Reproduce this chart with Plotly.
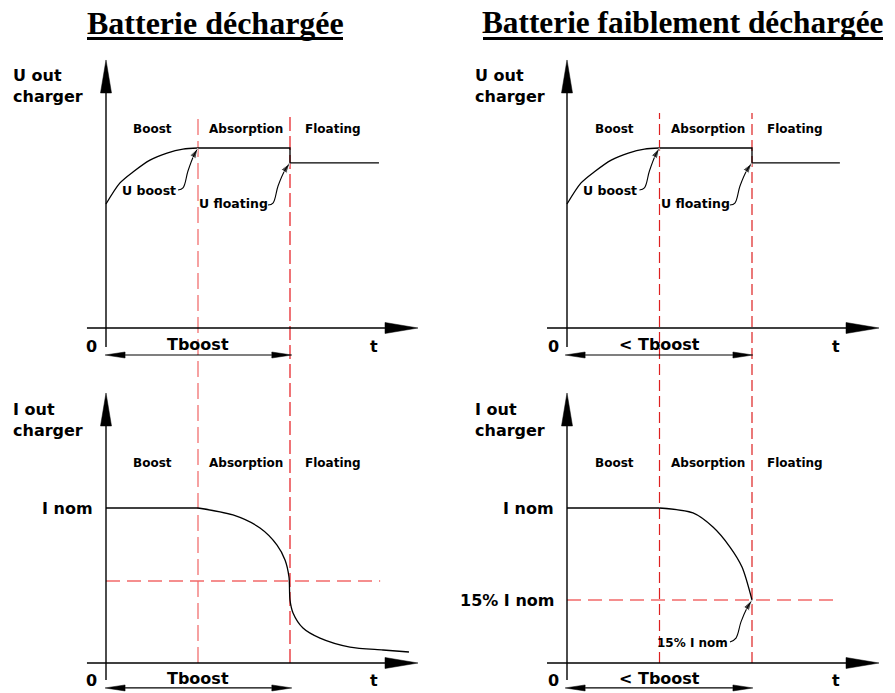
import plotly.graph_objects as go

# page is 895x693; the browser adds an 8px body margin, so the figure starts at (8, 8)
PAGE_W, PAGE_H, OFF = 895, 693, 8
W, H = PAGE_W - OFF, PAGE_H - OFF

# ---------------- data (time in phase units, values normalised to nominal) ----------------
phase_names = ["Boost", "Absorption", "Floating"]
phase_label_t = [0.51, 1.52, 2.47]
phase_bounds = [1.0, 2.0]

# Voltage, deeply discharged battery
u1_rise_t = [0.0, 0.152, 0.293, 0.478, 0.663, 0.837, 1.0]
u1_rise_v = [0.689, 0.806, 0.867, 0.933, 0.972, 0.994, 1.0]
u1_hold_t = [1.0, 2.0, 2.0, 2.967]
u1_hold_v = [1.0, 1.0, 0.917, 0.917]

# Voltage, slightly discharged battery
u2_rise_t = [0.0, 0.152, 0.293, 0.478, 0.663, 0.837, 1.0]
u2_rise_v = [0.689, 0.806, 0.867, 0.933, 0.972, 0.994, 1.0]
u2_hold_t = [1.0, 2.0, 2.0, 2.95]
u2_hold_v = [1.0, 1.0, 0.917, 0.917]

# Current, deeply discharged battery
i1_flat_t = [0.0, 1.0]
i1_flat_v = [1.0, 1.0]
i1_fall_t = [1.0, 1.380, 1.674, 1.859, 1.946, 1.989, 2.0, 2.033, 2.141, 2.326, 2.652, 3.011, 3.293]
i1_fall_v = [1.0, 0.955, 0.871, 0.761, 0.665, 0.555, 0.406, 0.323, 0.226, 0.161, 0.103, 0.084, 0.071]
i1_threshold = 0.529
i1_thr_t = [0.0, 2.98]

# Current, slightly discharged battery
i2_flat_t = [0.0, 1.0]
i2_flat_v = [1.0, 1.0]
i2_fall_t = [1.0, 1.362, 1.578, 1.762, 1.892, 2.0]
i2_fall_v = [1.0, 0.968, 0.877, 0.748, 0.619, 0.406]
i2_threshold = 0.406
i2_thr_t = [0.0, 2.95]

# callout arrows (label -> point)
ub_arrow_t = [0.783, 0.837, 0.891, 0.957, 1.0]
ub_arrow_v = [0.767, 0.778, 0.872, 0.961, 1.0]
uf_arrow_t = [1.761, 1.815, 1.870, 1.946, 2.0]
uf_arrow_v = [0.683, 0.694, 0.789, 0.878, 0.917]
i15_arrow_t = [1.762, 1.827, 1.881, 1.946, 2.0]
i15_arrow_v = [0.135, 0.161, 0.265, 0.355, 0.406]

titles = ["Batterie déchargée", "Batterie faiblement déchargée"]

# ---------------- panel geometry (page pixel layout) ----------------
P = {
    "TL": dict(n="", x0=106, sx=92.0, y0=328, sy=180.0, xpx=(OFF, 447), ypx=(OFF, 370)),
    "TR": dict(n="2", x0=567, sx=92.5, y0=328, sy=180.0, xpx=(447, PAGE_W), ypx=(OFF, 370)),
    "BL": dict(n="3", x0=106, sx=92.0, y0=663, sy=155.0, xpx=(OFF, 447), ypx=(370, PAGE_H)),
    "BR": dict(n="4", x0=567, sx=92.5, y0=663, sy=155.0, xpx=(447, PAGE_W), ypx=(370, PAGE_H)),
}


def px2fx(px):
    return (px - OFF) / W


def py2fy(py):
    return 1 - (py - OFF) / H


fig = go.Figure()
layout_axes = {}
for k, p in P.items():
    xr = [(p["xpx"][0] - p["x0"]) / p["sx"], (p["xpx"][1] - p["x0"]) / p["sx"]]
    yr = [(p["y0"] - p["ypx"][1]) / p["sy"], (p["y0"] - p["ypx"][0]) / p["sy"]]
    p["xr"], p["yr"] = xr, yr
    p["ydom"] = [max(0.0, py2fy(p["ypx"][1])), min(1.0, py2fy(p["ypx"][0]))]
    n = p["n"]
    layout_axes["xaxis" + n] = dict(domain=[max(0.0, px2fx(p["xpx"][0])), min(1.0, px2fx(p["xpx"][1]))],
                                    range=xr, visible=False, fixedrange=True, anchor="y" + n)
    layout_axes["yaxis" + n] = dict(domain=p["ydom"], range=yr,
                                    visible=False, fixedrange=True, anchor="x" + n)
    p["xa"], p["ya"] = "x" + n, "y" + n


def line(p, t, v, color="black", width=1.3, shape="linear", dash=None):
    fig.add_trace(go.Scatter(x=t, y=v, mode="lines", xaxis=p["xa"], yaxis=p["ya"],
                             line=dict(color=color, width=width, shape=shape, dash=dash,
                                       smoothing=0.8),
                             hoverinfo="skip", showlegend=False))


def tri(p, tt, tv, d, L, hw):
    if d == "up":
        xs = [tt, tt - hw / p["sx"], tt + hw / p["sx"], tt]
        ys = [tv, tv - L / p["sy"], tv - L / p["sy"], tv]
    elif d == "right":
        xs = [tt, tt - L / p["sx"], tt - L / p["sx"], tt]
        ys = [tv, tv + hw / p["sy"], tv - hw / p["sy"], tv]
    else:
        xs = [tt, tt + L / p["sx"], tt + L / p["sx"], tt]
        ys = [tv, tv + hw / p["sy"], tv - hw / p["sy"], tv]
    fig.add_trace(go.Scatter(x=xs, y=ys, mode="lines", fill="toself", fillcolor="black",
                             xaxis=p["xa"], yaxis=p["ya"], line=dict(color="black", width=0.5),
                             hoverinfo="skip", showlegend=False))


def callout(p, t, v):
    fig.add_trace(go.Scatter(x=t, y=v, mode="lines+markers", xaxis=p["xa"], yaxis=p["ya"],
                             line=dict(color="black", width=1.1, shape="spline"),
                             marker=dict(symbol="arrow", angleref="previous",
                                         size=[0] * (len(t) - 1) + [11], color="black"),
                             hoverinfo="skip", showlegend=False))


def text(p, t, v, s, size, xanchor="center"):
    fig.add_annotation(x=t, y=v, xref=p["xa"], yref=p["ya"], text=s, showarrow=False,
                       xanchor=xanchor, yanchor="middle", align="left",
                       font=dict(family="DejaVu Sans", size=size, color="black", weight="bold"))


def axes(p, ybot, ytip, xleft, xtip):
    L, hw = 33, 5.5
    line(p, [0, 0], [ybot, ytip - L / p["sy"]], width=1.4)
    tri(p, 0, ytip, "up", L, hw)
    line(p, [xleft, xtip - L / p["sx"]], [0, 0], width=1.4)
    tri(p, xtip, 0, "right", L, hw)


def span_arrow(p, t0, t1, v):
    L, hw = 20, 3
    line(p, [t0 + L / p["sx"], t1 - L / p["sx"]], [v, v], width=1.2)
    tri(p, t0, v, "left", L, hw)
    tri(p, t1, v, "right", L, hw)


def to_paper(p, v):
    return p["ydom"][0] + (v - p["yr"][0]) / (p["yr"][1] - p["yr"][0]) * (p["ydom"][1] - p["ydom"][0])


# ---------------- phase boundaries (span both panels) ----------------
left_dash = [("#f37b7b", "16px,6px"), ("#e8383c", "14px,5px")]
for (col, dsh), tb in zip(left_dash, phase_bounds):
    fig.add_shape(type="line", xref="x", yref="paper", x0=tb, x1=tb,
                  y0=to_paper(P["BL"], 0), y1=to_paper(P["TL"], 1.194),
                  line=dict(color=col, width=1.4, dash=dsh), layer="below")
for tb in phase_bounds:
    fig.add_shape(type="line", xref="x2", yref="paper", x0=tb, x1=tb,
                  y0=to_paper(P["BR"], 0), y1=to_paper(P["TR"], 1.194),
                  line=dict(color="#dd2020", width=1.2, dash="11px,5px"), layer="below")

# thresholds
line(P["BL"], i1_thr_t, [i1_threshold] * 2, color="#f26a6a", width=1.4, dash="14px,7px")
line(P["BR"], i2_thr_t, [i2_threshold] * 2, color="#f26a6a", width=1.4, dash="14px,7px")

# ---------------- axes ----------------
axes(P["TL"], -0.106, 1.489, -0.207, 3.391)
axes(P["TR"], -0.106, 1.489, -0.216, 3.373)
axes(P["BL"], -0.11, 1.742, -0.207, 3.391)
axes(P["BR"], -0.11, 1.742, -0.216, 3.373)

# ---------------- curves ----------------
line(P["TL"], u1_rise_t, u1_rise_v, shape="spline")
line(P["TL"], u1_hold_t, u1_hold_v)
line(P["TR"], u2_rise_t, u2_rise_v, shape="spline")
line(P["TR"], u2_hold_t, u2_hold_v)
line(P["BL"], i1_flat_t, i1_flat_v)
line(P["BL"], i1_fall_t, i1_fall_v, shape="spline")
line(P["BR"], i2_flat_t, i2_flat_v)
line(P["BR"], i2_fall_t, i2_fall_v, shape="spline")

# callouts
for p in (P["TL"], P["TR"]):
    callout(p, ub_arrow_t, ub_arrow_v)
    callout(p, uf_arrow_t, uf_arrow_v)
callout(P["BR"], i15_arrow_t, i15_arrow_v)

# span arrows
span_arrow(P["TL"], -0.01, 2.02, -0.15)
span_arrow(P["TR"], -0.02, 2.01, -0.15)
span_arrow(P["BL"], -0.01, 2.02, -0.161)
span_arrow(P["BR"], -0.02, 2.01, -0.161)

# ---------------- texts ----------------
for key, lx in (("TL", -1.033), ("TR", -1.016)):
    p = P[key]
    text(p, lx, 1.342, "U out<br>charger", 16, "left")
    for nm, lt in zip(phase_names, phase_label_t):
        text(p, lt, 1.106, nm, 12)
    text(p, 0.462, 0.763, "U boost", 12.5)
    text(p, 1.39, 0.689, "U floating", 12.5)
for key, lx in (("BL", -1.033), ("BR", -1.016)):
    p = P[key]
    text(p, lx, 1.565, "I out<br>charger", 16, "left")
    for nm, lt in zip(phase_names, phase_label_t):
        text(p, lt, 1.29, nm, 12)
    text(p, -0.12, 1.0, "I nom", 16, "right")

text(P["BR"], -0.119, i2_threshold, "15% I nom", 16, "right")
text(P["BR"], 1.357, 0.129, "15% I nom", 12)

for key, z, tx, span_lbl, yv in (("TL", -0.163, 2.913, "Tboost", -0.09),
                                  ("TR", -0.151, 2.908, "< Tboost", -0.09),
                                  ("BL", -0.163, 2.913, "Tboost", -0.10),
                                  ("BR", -0.151, 2.908, "< Tboost", -0.10)):
    p = P[key]
    text(p, z, yv - 0.01, "0", 16)
    text(p, tx, yv - 0.01, "t", 16)
    text(p, 1.0 if key[1] == "L" else 0.995, yv, span_lbl, 16)

# titles with thick underline
title_spans = [(87, 343), (483, 883)]
title_sizes = [32, 31.3]
for s, (x0, x1), fs in zip(titles, title_spans, title_sizes):
    fig.add_annotation(x=px2fx((x0 + x1) / 2), y=py2fy(23), xref="paper", yref="paper",
                       showarrow=False, text=s, xanchor="center", yanchor="middle",
                       font=dict(family="Liberation Serif", size=fs, color="black", weight="bold"))
    fig.add_shape(type="line", xref="paper", yref="paper", x0=px2fx(x0), x1=min(1.0, px2fx(x1)),
                  y0=py2fy(38.5), y1=py2fy(38.5), line=dict(color="black", width=3))

fig.update_layout(width=W, height=H, margin=dict(l=0, r=0, t=0, b=0),
                  paper_bgcolor="white", plot_bgcolor="rgba(0,0,0,0)", showlegend=False,
                  **layout_axes)

fig.write_html("out.html", config={"displayModeBar": False})
